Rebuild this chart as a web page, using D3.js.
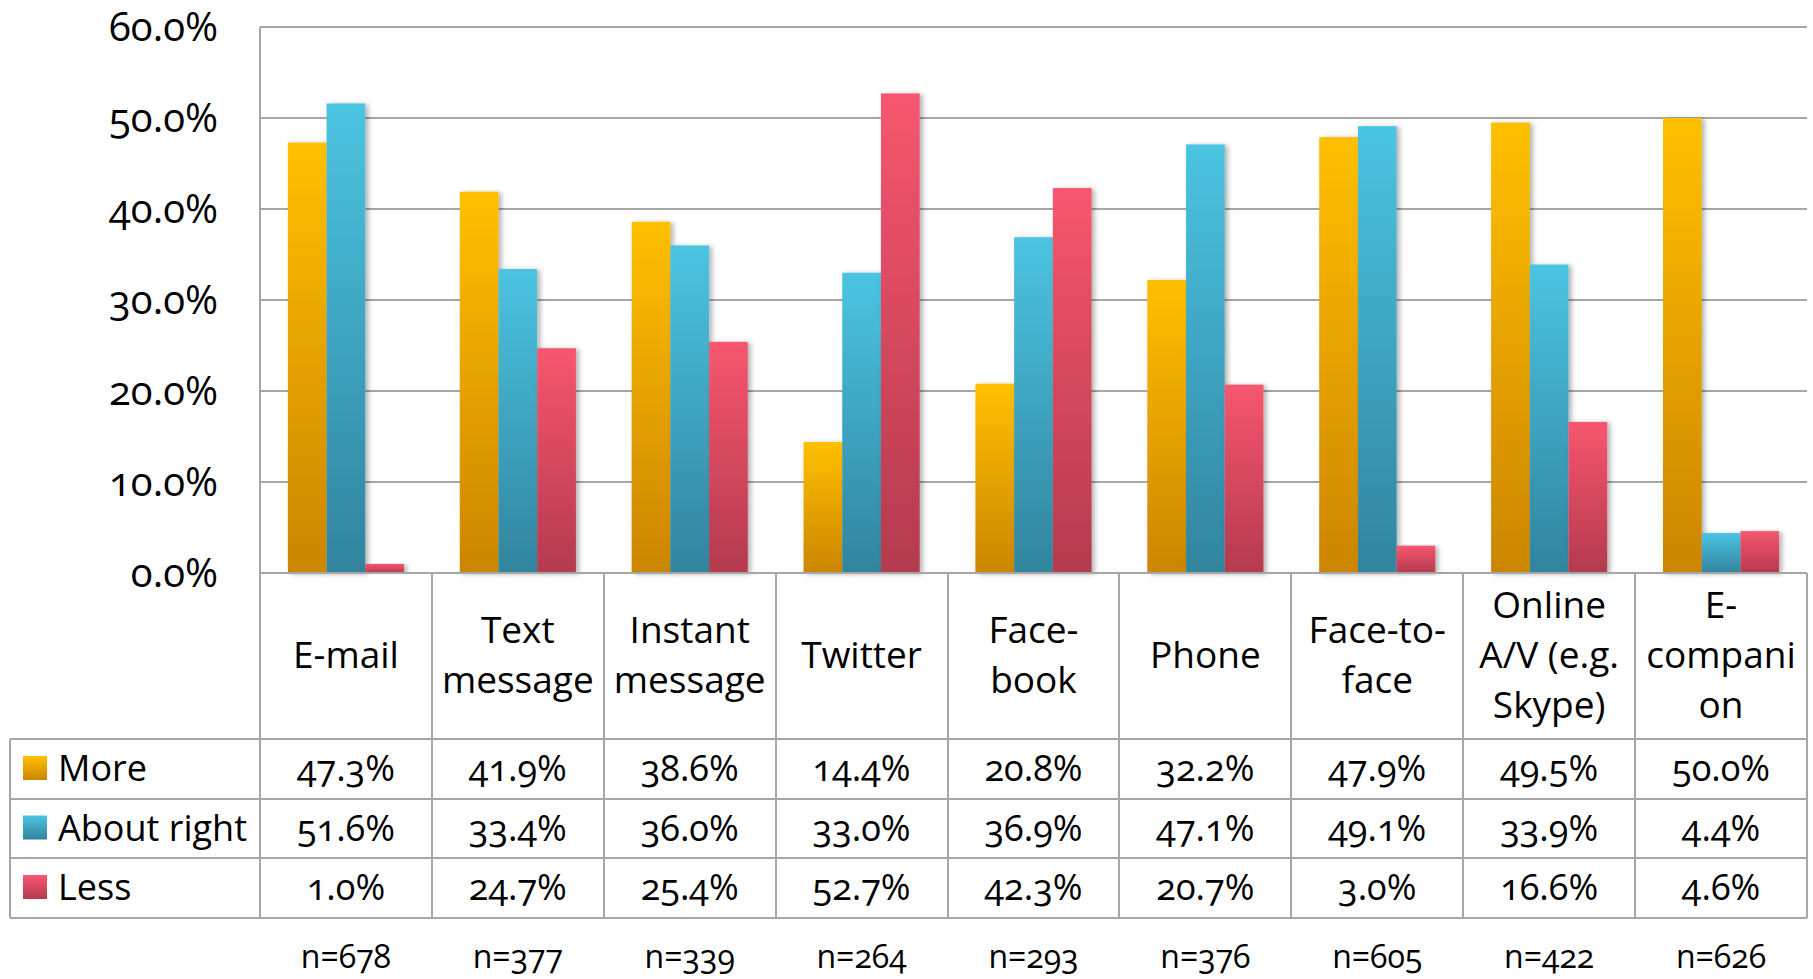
<!DOCTYPE html>
<meta charset="utf-8">
<title>More / About right / Less</title>
<style>
  body { margin:0; padding:0; background:#fff; }
  svg { display:block; }
  text { font-family: 'Open Sans', sans-serif; fill:#000; }
  .num { font-variant-numeric: oldstyle-nums; }
  .grid line, .rule { stroke:#a6a6a6; stroke-width:2; shape-rendering:crispEdges; }
</style>
<body>
<div id="chart"></div>
<script src="https://cdn.jsdelivr.net/npm/d3@7/dist/d3.min.js"></script>
<script>

var width = 1813, height = 979;

// data
var categories = ['E-mail','Text message','Instant message','Twitter','Face-book','Phone','Face-to-face','Online A/V (e.g. Skype)','E-companion'];
var categoryLines = [['E-mail'],['Text','message'],['Instant','message'],['Twitter'],['Face-','book'],['Phone'],['Face-to-','face'],['Online','A/V (e.g.','Skype)'],['E-','compani','on']];
var series = ['More','About right','Less'];
var more       = [47.3, 41.9, 38.6, 14.4, 20.8, 32.2, 47.9, 49.5, 50.0];
var aboutRight = [51.6, 33.4, 36.0, 33.0, 36.9, 47.1, 49.1, 33.9, 4.4];
var less       = [1.0, 24.7, 25.4, 52.7, 42.3, 20.7, 3.0, 16.6, 4.6];
var sampleSizes = ['n=678','n=377','n=339','n=264','n=293','n=376','n=605','n=422','n=626'];
var yTicks = [0, 10, 20, 30, 40, 50, 60];

var values = [more, aboutRight, less];
var colors = [['#ffc000','#cc8500'], ['#4bc4e2','#31849e'], ['#f7566f','#b43a4e']];

var plotLeft = 260, plotRight = 1807, plotTop = 27, plotBottom = 573,
    tableLeft = 10, rowH = 59.5, headerBottom = 739;

var svg = d3.select("#chart").append("svg")
  .attr("width", width).attr("height", height);

var defs = svg.append("defs");
colors.forEach(function(c, i) {
  var g = defs.append("linearGradient").attr("id", "grad" + i)
    .attr("x1", 0).attr("y1", 0).attr("x2", 0).attr("y2", 1);
  g.append("stop").attr("offset", "0%").attr("stop-color", c[0]);
  g.append("stop").attr("offset", "100%").attr("stop-color", c[1]);
});
var shadow = defs.append("filter").attr("id", "shadow")
  .attr("x", "-20%").attr("y", "-5%").attr("width", "160%").attr("height", "115%");
shadow.append("feDropShadow").attr("dx", 3).attr("dy", 1).attr("stdDeviation", 2.5)
  .attr("flood-color", "#000").attr("flood-opacity", 0.3);

var x0 = d3.scaleBand().domain(categories).range([plotLeft, plotRight]);
var x1 = d3.scaleBand().domain(series).range([0, x0.bandwidth()]).paddingOuter(0.72);
var y = d3.scaleLinear().domain([0, 60]).range([plotBottom, plotTop]);

// gridlines + left axis
var grid = svg.append("g").attr("class", "grid");
grid.selectAll("line").data(yTicks).enter().append("line")
  .attr("x1", plotLeft).attr("x2", plotRight)
  .attr("y1", function(d) { return y(d); })
  .attr("y2", function(d) { return y(d); });
svg.append("line").attr("class", "rule")
  .attr("x1", plotLeft).attr("x2", plotLeft).attr("y1", plotTop).attr("y2", plotBottom);

// y tick labels
svg.append("g").selectAll("text").data(yTicks).enter().append("text")
  .attr("class", "num")
  .attr("x", 218).attr("y", function(d) { return y(d) + 14; })
  .attr("text-anchor", "end")
  .style("font-size", "40px")
  .text(function(d) { return d3.format(".1f")(d) + "%"; });

// bars
var groups = svg.append("g").selectAll("g").data(categories).enter().append("g")
  .attr("transform", function(d) { return "translate(" + x0(d) + ",0)"; });
groups.selectAll("rect")
  .data(function(d, ci) { return series.map(function(s, si) { return {s: s, si: si, v: values[si][ci]}; }); })
  .enter().append("rect")
  .attr("x", function(d) { return x1(d.s); })
  .attr("width", x1.bandwidth())
  .attr("y", function(d) { return y(d.v); })
  .attr("height", function(d) { return plotBottom - y(d.v); })
  .attr("fill", function(d) { return "url(#grad" + d.si + ")"; })
  .attr("filter", "url(#shadow)");

// redraw baseline over shadows
svg.append("line").attr("class", "rule")
  .attr("x1", plotLeft).attr("x2", plotRight).attr("y1", plotBottom).attr("y2", plotBottom);

// data table lines
var tableBottom = headerBottom + rowH * 3;
var colEdges = categories.map(function(c) { return x0(c); }).concat([plotRight]);
svg.append("g").selectAll("line").data(colEdges).enter().append("line")
  .attr("class", "rule")
  .attr("x1", function(d) { return d; }).attr("x2", function(d) { return d; })
  .attr("y1", plotBottom).attr("y2", tableBottom);
svg.append("g").selectAll("line").data([0, 1, 2, 3]).enter().append("line")
  .attr("class", "rule")
  .attr("x1", tableLeft).attr("x2", plotRight)
  .attr("y1", function(d) { return headerBottom + rowH * d; })
  .attr("y2", function(d) { return headerBottom + rowH * d; });
svg.append("line").attr("class", "rule")
  .attr("x1", tableLeft).attr("x2", tableLeft).attr("y1", headerBottom).attr("y2", tableBottom);

// category headers
var lineH = 50, headerMid = 668;
svg.append("g").selectAll("text").data(categories).enter().append("text")
  .attr("text-anchor", "middle")
  .style("font-size", "37px")
  .each(function(d, i) {
    var lines = categoryLines[i], t = d3.select(this);
    lines.forEach(function(l, j) {
      t.append("tspan")
        .attr("x", x0(d) + x0.bandwidth() / 2)
        .attr("y", headerMid + (j - (lines.length - 1) / 2) * lineH)
        .text(l);
    });
  });

// legend keys + row labels
series.forEach(function(s, si) {
  var rowTop = headerBottom + rowH * si;
  svg.append("rect")
    .attr("x", 23).attr("y", rowTop + 17).attr("width", 24).attr("height", 24)
    .attr("fill", "url(#grad" + si + ")");
  svg.append("text")
    .attr("x", 58).attr("y", rowTop + 42)
    .style("font-size", "36px")
    .text(s);
  svg.append("g").selectAll("text").data(values[si]).enter().append("text")
    .attr("class", "num")
    .attr("x", function(d, ci) { return x0(categories[ci]) + x0.bandwidth() / 2; })
    .attr("y", rowTop + 42)
    .attr("text-anchor", "middle")
    .style("font-size", "36px")
    .text(function(d) { return d.toFixed(1) + "%"; });
});

// sample sizes
svg.append("g").selectAll("text").data(sampleSizes).enter().append("text")
  .attr("class", "num")
  .attr("x", function(d, ci) { return x0(categories[ci]) + x0.bandwidth() / 2; })
  .attr("y", 968)
  .attr("text-anchor", "middle")
  .style("font-size", "32px")
  .text(function(d) { return d; });

</script>
</body>
</html>
